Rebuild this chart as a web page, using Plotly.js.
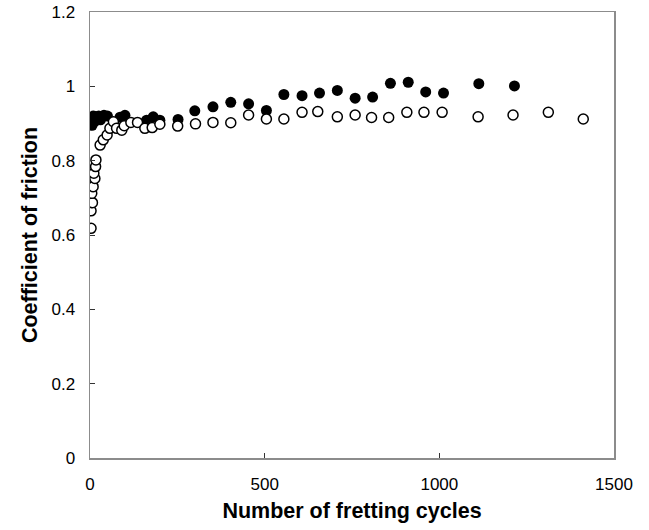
<!DOCTYPE html>
<html>
<head>
<meta charset="utf-8">
<script src="https://cdn.plot.ly/plotly-3.0.1.min.js"></script>
<style>html,body{margin:0;padding:0;background:#fff;}#chart{width:649px;height:530px;}</style>
</head>
<body>
<div id="chart"></div>
<script>
// Filled circles
const filledCycles = [2,4,6,8,10,13,17,20,25,30,40,50,86,100,162,181,200,252,300,352,403,454,505,555,607,657,708,759,809,860,911,961,1012,1113,1215];
const filledCoef   = [0.905,0.91,0.895,0.915,0.92,0.905,0.918,0.912,0.92,0.91,0.922,0.92,0.917,0.922,0.909,0.918,0.909,0.911,0.934,0.945,0.957,0.953,0.935,0.978,0.975,0.982,0.989,0.968,0.971,1.008,1.011,0.985,0.982,1.007,1.001];
// Open circles
const openCycles = [3,3,7,5,9,14,11,16,17,29,38,49,57,67,76,91,98,117,136,157,178,200,251,302,352,403,454,505,555,607,652,708,759,806,855,907,956,1008,1111,1211,1312,1412];
const openCoef   = [0.618,0.665,0.687,0.712,0.730,0.752,0.766,0.784,0.802,0.842,0.856,0.869,0.887,0.905,0.887,0.882,0.894,0.903,0.903,0.887,0.889,0.898,0.893,0.899,0.903,0.902,0.923,0.912,0.912,0.930,0.932,0.918,0.923,0.916,0.916,0.930,0.930,0.930,0.918,0.923,0.930,0.912];

const xTicks = [0,500,1000,1500];
const yTicks = [0,0.2,0.4,0.6,0.8,1,1.2];

const font = "Liberation Sans, Arial, Helvetica, sans-serif";

const traces = [
  {x: filledCycles, y: filledCoef, type: 'scatter', mode: 'markers',
   marker: {symbol: 'circle', size: 11, color: '#000', line: {width: 0}}},
  {x: openCycles, y: openCoef, type: 'scatter', mode: 'markers',
   marker: {symbol: 'circle', size: 10, color: '#fff', line: {width: 1.5, color: '#000'}}}
];

const layout = {
  width: 649, height: 530,
  margin: {l: 90, r: 35, t: 12, b: 72},
  paper_bgcolor: '#fff', plot_bgcolor: '#fff',
  showlegend: false,
  font: {family: font, color: '#000', size: 17},
  xaxis: {
    range: [0, 1500], tickvals: xTicks, ticktext: xTicks.map(String),
    showgrid: false, zeroline: false,
    showline: true, linecolor: '#8c8c8c', linewidth: 1.5, mirror: true,
    ticks: 'inside', ticklen: 5, tickcolor: '#333', tickwidth: 1,
    ticklabelstandoff: 10,
    tickfont: {family: font, size: 17, color: '#000'},
    title: {text: '<b>Number of fretting cycles</b>', font: {family: font, size: 21.5, color: '#000'}, standoff: 10}
  },
  yaxis: {
    range: [0, 1.2], tickvals: yTicks, ticktext: yTicks.map(String),
    showgrid: false, zeroline: false,
    showline: true, linecolor: '#8c8c8c', linewidth: 1.5, mirror: true,
    ticks: 'inside', ticklen: 5, tickcolor: '#333', tickwidth: 1,
    ticklabelstandoff: 10,
    tickfont: {family: font, size: 17, color: '#000'},
    title: {text: '<b>Coefficient of friction</b>', font: {family: font, size: 21.5, color: '#000'}, standoff: 8}
  }
};

Plotly.newPlot('chart', traces, layout, {displayModeBar: false, staticPlot: true});
</script>
</body>
</html>
